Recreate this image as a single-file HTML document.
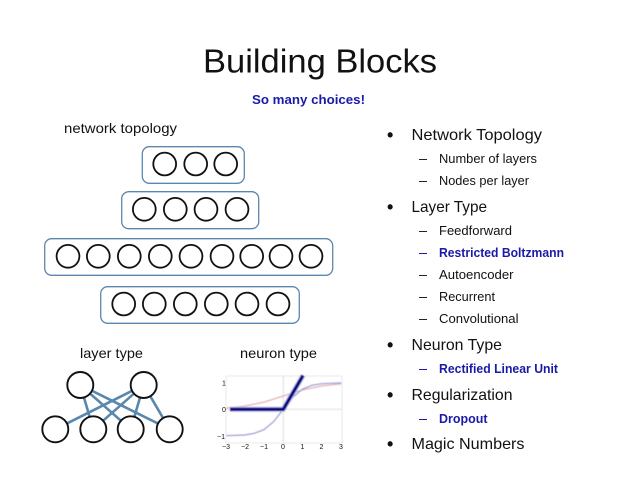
<!DOCTYPE html>
<html><head><meta charset="utf-8"><style>
html,body{margin:0;padding:0;background:#fff;width:638px;height:479px;overflow:hidden}
svg{display:block}
text{font-family:"Liberation Sans",sans-serif;fill:#111}
.b{font-size:16px}.s{font-size:12.5px}.l{font-size:14px}
.blue{fill:#1a1aa8;font-weight:bold}
.r{fill:#fff;stroke:#5b86ad;stroke-width:1.3}
.c{fill:#fff;stroke:#111;stroke-width:1.8}
.e{stroke:#5a87ad;stroke-width:2.6}
.t{font-size:7px;fill:#555}
</style></head><body>
<svg width="638" height="479" viewBox="0 0 638 479" xmlns="http://www.w3.org/2000/svg">
<defs><filter id="bl" x="-5%" y="-5%" width="110%" height="110%"><feGaussianBlur stdDeviation="0.5"/></filter></defs>
<text x="203" y="72.5" font-size="33" textLength="234" lengthAdjust="spacingAndGlyphs">Building Blocks</text>
<text x="252" y="104" font-size="12.5" class="blue" textLength="113" lengthAdjust="spacingAndGlyphs">So many choices!</text>
<text x="64" y="133" class="l" textLength="113" lengthAdjust="spacingAndGlyphs">network topology</text>
<text x="80" y="358" class="l" textLength="63" lengthAdjust="spacingAndGlyphs">layer type</text>
<text x="240" y="358" class="l" textLength="77" lengthAdjust="spacingAndGlyphs">neuron type</text>

<rect class="r" x="142.3" y="146.7" width="102" height="36.6" rx="7"/>
<g class="c"><circle cx="164.7" cy="164" r="11.4"/><circle cx="195.7" cy="164" r="11.4"/><circle cx="225.7" cy="164" r="11.4"/></g>
<rect class="r" x="121.7" y="191.7" width="137" height="37" rx="7"/>
<g class="c"><circle cx="144.3" cy="209.3" r="11.4"/><circle cx="175.3" cy="209.3" r="11.4"/><circle cx="206" cy="209.3" r="11.4"/><circle cx="237" cy="209.3" r="11.4"/></g>
<rect class="r" x="44.7" y="238.7" width="288" height="36.6" rx="7"/>
<g class="c"><circle cx="68" cy="256.3" r="11.4"/><circle cx="98.3" cy="256.3" r="11.4"/><circle cx="129.3" cy="256.3" r="11.4"/><circle cx="160.3" cy="256.3" r="11.4"/><circle cx="191" cy="256.3" r="11.4"/><circle cx="222" cy="256.3" r="11.4"/><circle cx="251.7" cy="256.3" r="11.4"/><circle cx="281" cy="256.3" r="11.4"/><circle cx="311" cy="256.3" r="11.4"/></g>
<rect class="r" x="100.7" y="286.7" width="198.6" height="36.6" rx="7"/>
<g class="c"><circle cx="123.7" cy="304" r="11.4"/><circle cx="154.3" cy="304" r="11.4"/><circle cx="185.3" cy="304" r="11.4"/><circle cx="216.3" cy="304" r="11.4"/><circle cx="247" cy="304" r="11.4"/><circle cx="278" cy="304" r="11.4"/></g>

<g class="e">
<line x1="80.3" y1="385" x2="93.3" y2="429.3"/><line x1="80.3" y1="385" x2="130.7" y2="429.3"/><line x1="80.3" y1="385" x2="169.7" y2="429.3"/>
<line x1="143.7" y1="385" x2="55.3" y2="429.3"/><line x1="143.7" y1="385" x2="93.3" y2="429.3"/><line x1="143.7" y1="385" x2="130.7" y2="429.3"/><line x1="143.7" y1="385" x2="169.7" y2="429.3"/>
</g>
<g class="c" style="stroke-width:1.9">
<circle cx="80.3" cy="385" r="13"/><circle cx="143.7" cy="385" r="13"/>
<circle cx="55.3" cy="429.3" r="13"/><circle cx="93.3" cy="429.3" r="13"/><circle cx="130.7" cy="429.3" r="13"/><circle cx="169.7" cy="429.3" r="13"/>
</g>

<g filter="url(#bl)">
<rect x="226" y="376" width="116" height="67" fill="none" stroke="#e8e8e8" stroke-width="1"/>
<line x1="226" y1="409.3" x2="342" y2="409.3" stroke="#ddd"/>
<line x1="283.3" y1="376" x2="283.3" y2="443" stroke="#ddd"/>
<polyline points="226.4,408 244.7,406.1 264,402.1 283.3,396 302.6,389.9 321.9,385.9 341.2,383.9" fill="none" stroke="#e0a0a0" stroke-width="1"/>
<polyline points="226.4,435.7 244.7,435 254.3,433.3 264,429.6 273.7,421.6 283.3,409.3 293,397 302.6,389 312.2,385.2 321.9,383.7 341.2,382.8" fill="none" stroke="#9a9ad8" stroke-width="1.2"/>
<path d="M230 409.3 H283.3 L303 375.5" fill="none" stroke="#bcbcea" stroke-width="5"/>
<path d="M230 409.3 H283.3 L303 375.5" fill="none" stroke="#00007c" stroke-width="3.2"/>
</g>
<g class="t">
<text x="222" y="385.5">1</text><text x="222" y="412">0</text><text x="217" y="439">−1</text>
<text x="222" y="449">−3</text><text x="241" y="449">−2</text><text x="260" y="449">−1</text><text x="281" y="449">0</text><text x="300.5" y="449">1</text><text x="319.5" y="449">2</text><text x="339" y="449">3</text>
</g>

<g font-size="18" style="font-weight:bold">
<text x="387" y="141">•</text><text x="387" y="213">•</text><text x="387" y="351">•</text><text x="387" y="401">•</text><text x="387" y="450">•</text>
</g>
<text x="411.5" y="140" class="b" textLength="130.5" lengthAdjust="spacingAndGlyphs">Network Topology</text>
<text x="411.5" y="212" class="b" textLength="75.5" lengthAdjust="spacingAndGlyphs">Layer Type</text>
<text x="411.5" y="350" class="b" textLength="90.5" lengthAdjust="spacingAndGlyphs">Neuron Type</text>
<text x="411.5" y="400" class="b" textLength="101" lengthAdjust="spacingAndGlyphs">Regularization</text>
<text x="411.5" y="449" class="b" textLength="113" lengthAdjust="spacingAndGlyphs">Magic Numbers</text>

<g stroke="#222" stroke-width="1">
<line x1="419" y1="159.5" x2="427" y2="159.5"/><line x1="419" y1="181.5" x2="427" y2="181.5"/>
<line x1="419" y1="231.5" x2="427" y2="231.5"/><line x1="419" y1="275.5" x2="427" y2="275.5"/>
<line x1="419" y1="297.5" x2="427" y2="297.5"/><line x1="419" y1="319.5" x2="427" y2="319.5"/>
</g>
<g stroke="#1a1aa8" stroke-width="1">
<line x1="419" y1="253.5" x2="427" y2="253.5"/><line x1="419" y1="369.5" x2="427" y2="369.5"/><line x1="419" y1="419.5" x2="427" y2="419.5"/>
</g>
<text x="439" y="163" class="s" textLength="98" lengthAdjust="spacingAndGlyphs">Number of layers</text>
<text x="439" y="185" class="s" textLength="90" lengthAdjust="spacingAndGlyphs">Nodes per layer</text>
<text x="439" y="235" class="s" textLength="73" lengthAdjust="spacingAndGlyphs">Feedforward</text>
<text x="439" y="257" class="s blue" textLength="125" lengthAdjust="spacingAndGlyphs">Restricted Boltzmann</text>
<text x="439" y="279" class="s" textLength="74.5" lengthAdjust="spacingAndGlyphs">Autoencoder</text>
<text x="439" y="301" class="s" textLength="56" lengthAdjust="spacingAndGlyphs">Recurrent</text>
<text x="439" y="323" class="s" textLength="79.5" lengthAdjust="spacingAndGlyphs">Convolutional</text>
<text x="439" y="373" class="s blue" textLength="119" lengthAdjust="spacingAndGlyphs">Rectified Linear Unit</text>
<text x="439" y="423" class="s blue" textLength="48.5" lengthAdjust="spacingAndGlyphs">Dropout</text>
</svg>
</body></html>
